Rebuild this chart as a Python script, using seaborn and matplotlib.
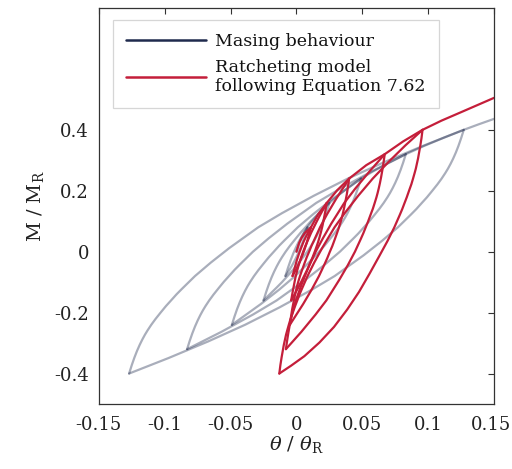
import matplotlib
matplotlib.use("Agg")
import matplotlib.pyplot as plt
import matplotlib.transforms as mtransforms
import pandas as pd
import seaborn as sns
from matplotlib.lines import Line2D

# ---------------------------------------------------------------------------
# Masing behaviour: reloading (up) and unloading (down) branches of each cycle
# ---------------------------------------------------------------------------
masing_up_1 = ([-0.0084, -0.0064, -0.0044, -0.0024, -0.0004, 0.0016, 0.0036, 0.0056, 0.0084],
               [-0.08, -0.0526, -0.0278, -0.0057, 0.0139, 0.0315, 0.0474, 0.0617, 0.08])
masing_down_1 = ([0.0084, 0.0064, 0.0044, 0.0024, 0.0004, -0.0016, -0.0036, -0.0056, -0.0084],
                 [0.08, 0.0526, 0.0278, 0.0057, -0.0139, -0.0315, -0.0474, -0.0617, -0.08])

masing_up_2 = ([-0.025, -0.023, -0.021, -0.019, -0.017, -0.015, -0.013, -0.011, -0.0082, -0.005, -0.001, 0.003, 0.007, 0.011, 0.015, 0.025],
               [-0.16, -0.1326, -0.1078, -0.0857, -0.0661, -0.0485, -0.0326, -0.0183, 0.0, 0.0189, 0.0406, 0.0617, 0.0808, 0.1001, 0.1176, 0.16])
masing_down_2 = ([0.025, 0.023, 0.021, 0.019, 0.017, 0.015, 0.013, 0.011, 0.0082, 0.005, 0.001, -0.003, -0.007, -0.011, -0.015, -0.025],
                 [0.16, 0.1326, 0.1078, 0.0857, 0.0661, 0.0485, 0.0326, 0.0183, 0.0, -0.0189, -0.0406, -0.0617, -0.0808, -0.1001, -0.1176, -0.16])

masing_up_3 = ([-0.049, -0.047, -0.045, -0.043, -0.041, -0.039, -0.037, -0.035, -0.0322, -0.029, -0.025, -0.021, -0.017, -0.013, -0.009, 0.001, 0.013, 0.027, 0.049],
               [-0.24, -0.2126, -0.1878, -0.1657, -0.1461, -0.1285, -0.1126, -0.0983, -0.08, -0.0611, -0.0394, -0.0183, 0.0008, 0.0201, 0.0376, 0.08, 0.1242, 0.1718, 0.24])
masing_down_3 = ([0.049, 0.047, 0.045, 0.043, 0.041, 0.039, 0.037, 0.035, 0.0322, 0.029, 0.025, 0.021, 0.017, 0.013, 0.009, -0.001, -0.013, -0.027, -0.049],
                 [0.24, 0.2126, 0.1878, 0.1657, 0.1461, 0.1285, 0.1126, 0.0983, 0.08, 0.0611, 0.0394, 0.0183, -0.0008, -0.0201, -0.0376, -0.08, -0.1242, -0.1718, -0.24])

masing_up_4 = ([-0.083, -0.081, -0.079, -0.077, -0.075, -0.073, -0.071, -0.069, -0.0662, -0.063, -0.059, -0.055, -0.051, -0.047, -0.043, -0.033, -0.021, -0.007, 0.015, 0.033, 0.057, 0.083],
               [-0.32, -0.2926, -0.2678, -0.2457, -0.2261, -0.2085, -0.1926, -0.1783, -0.16, -0.1411, -0.1194, -0.0983, -0.0792, -0.0599, -0.0424, 0.0, 0.0442, 0.0918, 0.16, 0.2064, 0.2632, 0.32])
masing_down_4 = ([0.083, 0.081, 0.079, 0.077, 0.075, 0.073, 0.071, 0.069, 0.0662, 0.063, 0.059, 0.055, 0.051, 0.047, 0.043, 0.033, 0.021, 0.007, -0.015, -0.033, -0.057, -0.083],
                 [0.32, 0.2926, 0.2678, 0.2457, 0.2261, 0.2085, 0.1926, 0.1783, 0.16, 0.1411, 0.1194, 0.0983, 0.0792, 0.0599, 0.0424, 0.0, -0.0442, -0.0918, -0.16, -0.2064, -0.2632, -0.32])

masing_up_5 = ([-0.127, -0.125, -0.123, -0.121, -0.119, -0.117, -0.115, -0.113, -0.1102, -0.107, -0.103, -0.099, -0.095, -0.091, -0.087, -0.077, -0.065, -0.051, -0.029, -0.011, 0.013, 0.039, 0.067, 0.097, 0.127],
               [-0.4, -0.3726, -0.3478, -0.3257, -0.3061, -0.2885, -0.2726, -0.2583, -0.24, -0.2211, -0.1994, -0.1783, -0.1592, -0.1399, -0.1224, -0.08, -0.0358, 0.0118, 0.08, 0.1264, 0.1832, 0.24, 0.2946, 0.349, 0.40])
masing_down_5 = ([0.127, 0.125, 0.123, 0.121, 0.119, 0.117, 0.115, 0.113, 0.1102, 0.107, 0.103, 0.099, 0.095, 0.091, 0.087, 0.077, 0.065, 0.051, 0.029, 0.011, -0.013, -0.039, -0.067, -0.097, -0.127],
                 [0.40, 0.3726, 0.3478, 0.3257, 0.3061, 0.2885, 0.2726, 0.2583, 0.24, 0.2211, 0.1994, 0.1783, 0.1592, 0.1399, 0.1224, 0.08, 0.0358, -0.0118, -0.08, -0.1264, -0.1832, -0.24, -0.2946, -0.349, -0.40])

# skeleton (first loading) curve
masing_backbone = ([0, 0.001, 0.002, 0.003, 0.004, 0.005, 0.006, 0.007, 0.0084, 0.010, 0.012, 0.014, 0.016, 0.018, 0.020, 0.025, 0.031, 0.038, 0.049, 0.058, 0.070, 0.083, 0.097, 0.112, 0.127, 0.138, 0.150],
                   [0, 0.0137, 0.0261, 0.0372, 0.0470, 0.0558, 0.0637, 0.0709, 0.080, 0.0895, 0.1003, 0.1109, 0.1204, 0.1301, 0.1388, 0.160, 0.1821, 0.2059, 0.240, 0.2632, 0.2916, 0.320, 0.3473, 0.3745, 0.400, 0.4176, 0.436])

# ---------------------------------------------------------------------------
# Ratcheting model (Equation 7.62)
# ---------------------------------------------------------------------------
ratchet_load = ([0, 0.002, 0.004, 0.0065, 0.011],
                [0, 0.028, 0.046, 0.062, 0.08])

ratchet_down_1 = ([0.011, 0.0093, 0.0077, 0.006, 0.0043, 0.0027, 0.001, -0.0007, -0.003],
                  [0.08, 0.0526, 0.0278, 0.0057, -0.0139, -0.0315, -0.0474, -0.0617, -0.08])
ratchet_up_1 = ([-0.003, -0.0013, 0.0003, 0.002, 0.0037, 0.0053, 0.007, 0.0087, 0.011, 0.0165, 0.023],
                [-0.08, -0.0526, -0.0278, -0.0057, 0.0139, 0.0315, 0.0474, 0.0617, 0.08, 0.123, 0.16])

ratchet_down_2 = ([0.023, 0.0219, 0.0208, 0.0198, 0.0187, 0.0176, 0.0165, 0.0154, 0.0139, 0.0122, 0.010, 0.0079, 0.0057, 0.0035, 0.0014, -0.004],
                  [0.16, 0.1326, 0.1078, 0.0857, 0.0661, 0.0485, 0.0326, 0.0183, 0.0, -0.0189, -0.0406, -0.0617, -0.0808, -0.1001, -0.1176, -0.16])
ratchet_up_2 = ([-0.004, -0.0029, -0.0018, -0.0008, 0.0003, 0.0014, 0.0025, 0.0036, 0.0051, 0.0068, 0.009, 0.0111, 0.0133, 0.0155, 0.0176, 0.023, 0.031, 0.040],
                [-0.16, -0.1326, -0.1078, -0.0857, -0.0661, -0.0485, -0.0326, -0.0183, 0.0, 0.0189, 0.0406, 0.0617, 0.0808, 0.1001, 0.1176, 0.16, 0.202, 0.24])

ratchet_down_3 = ([0.040, 0.0391, 0.0382, 0.0372, 0.0363, 0.0354, 0.0345, 0.0336, 0.0323, 0.0308, 0.029, 0.0272, 0.0253, 0.0235, 0.0217, 0.0171, 0.0116, 0.0051, -0.005],
                  [0.24, 0.2126, 0.1878, 0.1657, 0.1461, 0.1285, 0.1126, 0.0983, 0.08, 0.0611, 0.0394, 0.0183, -0.0008, -0.0201, -0.0376, -0.08, -0.1242, -0.1718, -0.24])
ratchet_up_3 = ([-0.005, -0.0041, -0.0032, -0.0022, -0.0013, -0.0004, 0.0005, 0.0014, 0.0027, 0.0042, 0.006, 0.0078, 0.0097, 0.0115, 0.0134, 0.0179, 0.0234, 0.0299, 0.040, 0.053, 0.067],
                [-0.24, -0.2126, -0.1878, -0.1657, -0.1461, -0.1285, -0.1126, -0.0983, -0.08, -0.0611, -0.0394, -0.0183, 0.0008, 0.0201, 0.0376, 0.08, 0.1242, 0.1718, 0.24, 0.284, 0.32])

ratchet_down_4 = ([0.067, 0.0661, 0.0652, 0.0643, 0.0634, 0.0625, 0.0616, 0.0607, 0.0594, 0.0580, 0.0561, 0.0543, 0.0525, 0.0507, 0.0489, 0.0444, 0.0390, 0.0326, 0.0227, 0.0145, 0.0037, -0.008],
                  [0.32, 0.2926, 0.2678, 0.2457, 0.2261, 0.2085, 0.1926, 0.1783, 0.16, 0.1411, 0.1194, 0.0983, 0.0792, 0.0599, 0.0424, 0.0, -0.0442, -0.0918, -0.16, -0.2064, -0.2632, -0.32])
ratchet_up_4 = ([-0.008, -0.0071, -0.0062, -0.0053, -0.0044, -0.0035, -0.0026, -0.0017, -0.0004, 0.0011, 0.0029, 0.0047, 0.0065, 0.0083, 0.0101, 0.0146, 0.0201, 0.0264, 0.0363, 0.0445, 0.0554, 0.067, 0.081, 0.0957],
                [-0.32, -0.2926, -0.2678, -0.2457, -0.2261, -0.2085, -0.1926, -0.1783, -0.16, -0.1411, -0.1194, -0.0983, -0.0792, -0.0599, -0.0424, 0.0, 0.0442, 0.0918, 0.16, 0.2064, 0.2632, 0.32, 0.362, 0.40])

ratchet_down_5 = ([0.0957, 0.0949, 0.094, 0.0931, 0.0923, 0.0914, 0.0906, 0.0897, 0.0885, 0.0872, 0.0854, 0.0837, 0.082, 0.0803, 0.0786, 0.0743, 0.0692, 0.0632,
                   0.0555, 0.0475, 0.0385, 0.0285, 0.0175, 0.006, -0.004, -0.013],
                  [0.40, 0.3726, 0.3478, 0.3257, 0.3061, 0.2885, 0.2726, 0.2583, 0.24, 0.2211, 0.1994, 0.1783, 0.1592, 0.1399, 0.1224, 0.08, 0.0358, -0.0118,
                   -0.072, -0.132, -0.19, -0.247, -0.298, -0.343, -0.374, -0.40])
ratchet_up_5 = ([-0.013, -0.0122, -0.0113, -0.0104, -0.0096, -0.0087, -0.0079, -0.007, -0.0058, -0.0045, -0.0027, -0.001, 0.0007, 0.0024, 0.0041, 0.0084, 0.0135, 0.0195,
                 0.0289, 0.0366, 0.0468, 0.0579, 0.0699, 0.0827, 0.0957, 0.110, 0.125, 0.150],
                [-0.4, -0.3726, -0.3478, -0.3257, -0.3061, -0.2885, -0.2726, -0.2583, -0.24, -0.2211, -0.1994, -0.1783, -0.1592, -0.1399, -0.1224, -0.08, -0.0358, 0.0118,
                 0.08, 0.1264, 0.1832, 0.24, 0.2946, 0.349, 0.40, 0.430, 0.458, 0.505])

masing_branches = [masing_backbone,
                   masing_up_1, masing_down_1, masing_up_2, masing_down_2,
                   masing_up_3, masing_down_3, masing_up_4, masing_down_4,
                   masing_up_5, masing_down_5]
ratchet_branches = [ratchet_load,
                    ratchet_down_1, ratchet_up_1, ratchet_down_2, ratchet_up_2,
                    ratchet_down_3, ratchet_up_3, ratchet_down_4, ratchet_up_4,
                    ratchet_down_5, ratchet_up_5]

x_ticks = [-0.15, -0.1, -0.05, 0, 0.05, 0.1, 0.15]
x_tick_labels = ["-0.15", "-0.1", "-0.05", "0", "0.05", "0.1", "0.15"]
y_ticks = [-0.4, -0.2, 0, 0.2, 0.4]
y_tick_labels = ["-0.4", "-0.2", "0", "0.2", "0.4"]

legend_labels = ["Masing behaviour", "Ratcheting model\nfollowing Equation 7.62"]

NAVY = "#1f2a4d"
RED = "#c41e3a"


def to_frame(branches):
    rows = []
    for b, (th, m) in enumerate(branches):
        for i, (t, v) in enumerate(zip(th, m)):
            rows.append({"branch": b, "step": i, "theta": t, "M": v})
    return pd.DataFrame(rows)


masing_df = to_frame(masing_branches)
ratchet_df = to_frame(ratchet_branches)

sns.set_style("white")
plt.rcParams["font.family"] = ["DejaVu Serif"]
plt.rcParams["mathtext.fontset"] = "dejavuserif"
plt.rcParams["axes.unicode_minus"] = False

fig = plt.figure(figsize=(5.12, 4.69), dpi=100)
ax = fig.add_axes([0.193, 0.1386, 0.772, 0.8444])

sns.lineplot(data=masing_df, x="theta", y="M", units="branch", estimator=None,
             sort=False, color=NAVY, alpha=0.38, linewidth=1.6, ax=ax, legend=False)
sns.lineplot(data=ratchet_df, x="theta", y="M", units="branch", estimator=None,
             sort=False, color=RED, linewidth=1.6, ax=ax, legend=False)

ax.set_xlim(-0.15, 0.15)
ax.set_ylim(-0.5, 0.8)
ax.set_xticks(x_ticks)
ax.set_xticklabels(x_tick_labels)
ax.set_yticks(y_ticks)
ax.set_yticklabels(y_tick_labels)
ax.tick_params(direction="in", top=True, right=True, length=4, width=0.8,
               color="#333333", labelsize=13, labelcolor="#222222")
ax.tick_params(axis="x", pad=9)
ax.tick_params(axis="y", pad=7)
for sp in ax.spines.values():
    sp.set_color("#333333")
    sp.set_linewidth(0.9)

# keep the right-most tick label inside the canvas
last = ax.xaxis.get_major_ticks()[-1].label1
last.set_transform(last.get_transform() +
                   mtransforms.ScaledTranslation(-3 / 100, 0, fig.dpi_scale_trans))

ax.set_xlabel(r"$\theta$ / $\theta_{\mathrm{R}}$", fontsize=14, color="#222222", labelpad=0)
ax.set_ylabel(r"M / M$_{\mathrm{R}}$", fontsize=14, color="#222222", labelpad=6)

handles = [Line2D([], [], color=NAVY, lw=1.8), Line2D([], [], color=RED, lw=1.8)]
leg = ax.legend(handles, legend_labels, loc="upper left", bbox_to_anchor=(0.035, 0.97),
                frameon=True, fancybox=False, edgecolor="#cccccc", fontsize=12.5,
                handlelength=4.6, handletextpad=0.55, borderpad=0.75, labelspacing=0.55,
                borderaxespad=0)
leg.get_frame().set_linewidth(0.9)
for t in leg.get_texts():
    t.set_linespacing(1.1)
    t.set_color("#111111")

fig.savefig("out.png", dpi=100)
